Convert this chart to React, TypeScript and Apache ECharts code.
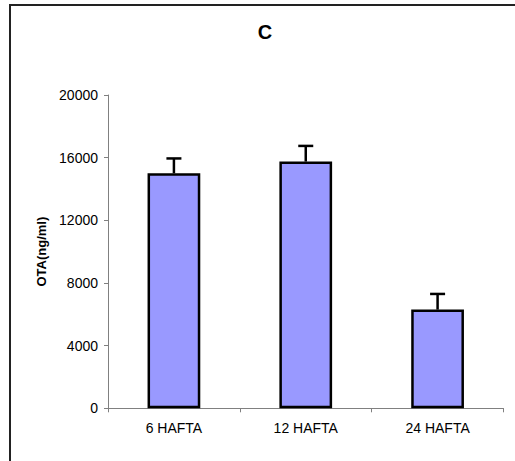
import React, { useEffect, useRef } from "react";
import * as echarts from "echarts";

const categories = ["6 HAFTA", "12 HAFTA", "24 HAFTA"];
const means = [15000, 15750, 6300];
const errors = [950, 1000, 1000];
const titleText = "C";
const yAxisName = "OTA(ng/ml)";

export default function App() {
  const ref = useRef<HTMLDivElement>(null);
  useEffect(() => {
    if (!ref.current) return;
    const chart = echarts.init(ref.current, null, { renderer: "svg" });
    const font = "Liberation Sans, Arial, sans-serif";
    chart.setOption({
      animation: false,
      backgroundColor: "#ffffff",
      title: {
        text: titleText,
        left: 265,
        top: 22,
        padding: 0,
        textAlign: "center",
        textStyle: { fontFamily: font, fontSize: 20, fontWeight: "bold", color: "#000" },
      },
      graphic: [
        {
          type: "rect",
          shape: { x: 10, y: 5, width: 540, height: 500 },
          style: { fill: "none", stroke: "#222", lineWidth: 2 },
          silent: true,
        },
      ],
      grid: { left: 108, right: 11.5, top: 95, bottom: 52.7, containLabel: false },
      xAxis: {
        type: "category",
        data: categories,
        boundaryGap: true,
        axisLine: { lineStyle: { color: "#808080", width: 1 } },
        axisTick: { show: true, length: 4, lineStyle: { color: "#808080" } },
        axisLabel: { fontFamily: font, fontSize: 14, color: "#000", margin: 13 },
      },
      yAxis: {
        type: "value",
        min: 0,
        max: 20000,
        interval: 4000,
        name: yAxisName,
        nameLocation: "middle",
        nameGap: 58,
        nameTextStyle: { fontFamily: font, fontSize: 13, fontWeight: "bold", color: "#000" },
        axisLine: { show: true, lineStyle: { color: "#808080", width: 1 } },
        axisTick: { show: true, length: 4, lineStyle: { color: "#808080" } },
        splitLine: { show: false },
        axisLabel: {
          fontFamily: font,
          fontSize: 14,
          color: "#000",
          margin: 10,
          formatter: (v: number) => String(v),
        },
      },
      series: [
        {
          type: "bar",
          data: means,
          barWidth: "40%",
          itemStyle: { color: "#9999FF", borderColor: "#000", borderWidth: 2.5 },
        },
        {
          type: "custom",
          data: means.map((m, i) => [i, m, errors[i]]),
          encode: { x: 0, y: 1 },
          z: 3,
          renderItem: (params: any, api: any) => {
            const i = api.value(0);
            const m = api.value(1);
            const e = api.value(2);
            const top = api.coord([i, m + e]);
            const base = api.coord([i, m]);
            const half = 7.5;
            return {
              type: "group",
              children: [
                {
                  type: "line",
                  shape: { x1: top[0], y1: top[1], x2: base[0], y2: base[1] },
                  style: { stroke: "#000", lineWidth: 2.5 },
                },
                {
                  type: "line",
                  shape: { x1: top[0] - half, y1: top[1], x2: top[0] + half, y2: top[1] },
                  style: { stroke: "#000", lineWidth: 2.5 },
                },
              ],
            };
          },
        },
      ],
    });
    return () => chart.dispose();
  }, []);
  return (
    <div
      ref={ref}
      style={{ position: "fixed", left: 0, top: 0, width: 515, height: 461 }}
    />
  );
}
